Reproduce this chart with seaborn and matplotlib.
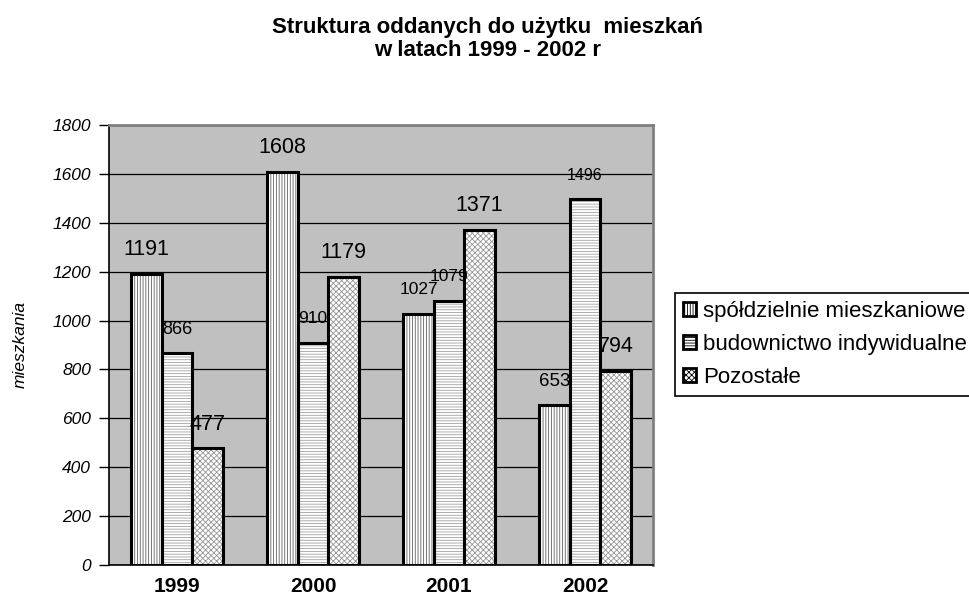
import matplotlib
matplotlib.use("Agg")
import matplotlib.pyplot as plt
import matplotlib.patches as mpatches
import seaborn as sns
import pandas as pd

# Data
years = ["1999", "2000", "2001", "2002"]
series = ["spółdzielnie mieszkaniowe", "budownictwo indywidualne", "Pozostałe"]
spoldzielnie = [1191, 1608, 1027, 653]
indywidualne = [866, 910, 1079, 1496]
pozostale = [477, 1179, 1371, 794]

df = pd.DataFrame({
    "rok": years * 3,
    "typ": [series[0]] * 4 + [series[1]] * 4 + [series[2]] * 4,
    "mieszkania": spoldzielnie + indywidualne + pozostale,
})

sns.set_theme(style="white")
plt.rcParams["font.family"] = ["Liberation Sans", "DejaVu Sans"]
plt.rcParams["hatch.linewidth"] = 0.6
for k in ["text.color", "axes.labelcolor", "xtick.color", "ytick.color"]:
    plt.rcParams[k] = "black"

hatches = ["||||||", "------", "xxxxxx"]
hatch_colors = ["#606060", "#a0a0a0", "#959595"]
# label font sizes per series/year (style only)
label_sizes = [[15.5, 15.5, 12.5, 13.5], [13, 12.5, 12.5, 11.5], [15.5, 15.5, 15.5, 15.5]]

fig = plt.figure(figsize=(9.7, 6.06), dpi=100)
ax = fig.add_axes([0.1124, 0.0677, 0.5608, 0.7260])
ax.set_facecolor("#c0c0c0")

sns.barplot(data=df, x="rok", y="mieszkania", hue="typ", order=years,
            hue_order=series, width=0.67, palette=["white"] * 3,
            edgecolor="#505050", linewidth=0, ax=ax, legend=False, zorder=2)

for i, cont in enumerate(ax.containers):
    for j, bar in enumerate(cont):
        bar.set_hatch(hatches[i])
        bar.set_edgecolor(hatch_colors[i])
        ax.add_patch(mpatches.Rectangle(bar.get_xy(), bar.get_width(), bar.get_height(),
                                        fill=False, edgecolor="black", lw=2.2, zorder=3))
        ax.annotate(str(int(bar.get_height())),
                    (bar.get_x() + bar.get_width() / 2, bar.get_height()),
                    xytext=(0, 17.5), textcoords="offset points",
                    ha="center", va="center", fontsize=label_sizes[i][j],
                    color="black", zorder=4)

ax.set_ylim(0, 1800)
ax.set_xlim(-0.5, 3.5)
ax.set_yticks(range(0, 1801, 200))
ax.set_yticklabels([str(v) for v in range(0, 1801, 200)], fontsize=12.5, style="italic")
ax.yaxis.grid(True, color="black", lw=0.9)
ax.set_axisbelow(True)

ax.set_xticks(range(4))
ax.set_xticklabels(years, fontsize=15, fontweight="bold")
ax.set_xticks([-0.5, 0.5, 1.5, 2.5, 3.5], minor=True)
ax.tick_params(axis="x", which="major", length=0, pad=9)
ax.tick_params(axis="x", which="minor", length=7, width=1, color="black", direction="out")
ax.tick_params(axis="y", length=7, width=1, color="black", direction="out", left=True, pad=6)

ax.set_xlabel("")
ax.set_ylabel("mieszkania", fontsize=12.5, style="italic", labelpad=18)

for side in ["left", "bottom"]:
    ax.spines[side].set_color("black")
    ax.spines[side].set_linewidth(1.2)
for side in ["top", "right"]:
    ax.spines[side].set_color("#808080")
    ax.spines[side].set_linewidth(2)

handles = [mpatches.Patch(facecolor="white", edgecolor="black", hatch=h, lw=2) for h in hatches]
leg = fig.legend(handles, series, loc="upper left", bbox_to_anchor=(0.696, 0.5165, 0.32, 0),
                 mode="expand", fontsize=16, frameon=True, fancybox=False, edgecolor="black",
                 framealpha=1, borderaxespad=0, handlelength=0.6, handleheight=0.6,
                 handletextpad=0.3, labelspacing=0.55, borderpad=0.35)
leg.get_frame().set_linewidth(1.2)

fig.text(0.503, 1 - 39 / 606, "Struktura oddanych do użytku  mieszkań\nw latach 1999 - 2002 r",
         ha="center", va="center", fontsize=16, fontweight="bold", linespacing=1.15)

fig.savefig("out.png", dpi=100)
